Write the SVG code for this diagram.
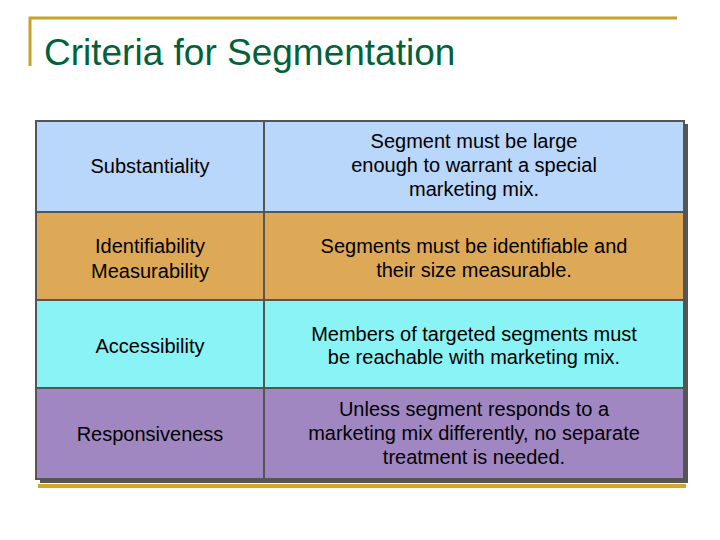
<svg xmlns="http://www.w3.org/2000/svg" width="720" height="540" viewBox="0 0 720 540">
<style>
.t{font-family:"Liberation Sans",Arial,sans-serif;font-size:20px;text-anchor:middle;fill:#000;}
.c{stroke:#555;stroke-width:2;}
</style>
<rect width="720" height="540" fill="#fff"/>
<g id="frame" fill="none" stroke="#c8a02a" stroke-width="3">
<path d="M30 66V18H677"/>
</g>
<text x="44" y="65" font-family="Liberation Sans,Arial,sans-serif" font-size="37" fill="#00623a">Criteria for Segmentation</text>
<rect x="38" y="484" width="648" height="4" fill="#d4a624"/>
<rect x="40" y="124" width="648" height="359" fill="#555"/>
<g id="row1"><rect class="c" x="36" y="121" width="228" height="91" fill="#b9d6fb"/><rect class="c" x="264" y="121" width="420" height="91" fill="#b9d6fb"/>
<text class="t" x="150" y="173">Substantiality</text>
<text class="t" x="474" y="148">Segment must be large</text><text class="t" x="474" y="172">enough to warrant a special</text><text class="t" x="474" y="196">marketing mix.</text></g>
<g id="row2"><rect class="c" x="36" y="212" width="228" height="88" fill="#dea957"/><rect class="c" x="264" y="212" width="420" height="88" fill="#dea957"/>
<text class="t" x="150" y="253">Identifiability</text><text class="t" x="150" y="278">Measurability</text>
<text class="t" x="474" y="253">Segments must be identifiable and</text><text class="t" x="474" y="277">their size measurable.</text></g>
<g id="row3"><rect class="c" x="36" y="300" width="228" height="88" fill="#8af3f5"/><rect class="c" x="264" y="300" width="420" height="88" fill="#8af3f5"/>
<text class="t" x="150" y="353">Accessibility</text>
<text class="t" x="474" y="341">Members of targeted segments must</text><text class="t" x="474" y="364">be reachable with marketing mix.</text></g>
<g id="row4"><rect class="c" x="36" y="388" width="228" height="91" fill="#a087c1"/><rect class="c" x="264" y="388" width="420" height="91" fill="#a087c1"/>
<text class="t" x="150" y="441">Responsiveness</text>
<text class="t" x="474" y="416">Unless segment responds to a</text><text class="t" x="474" y="440">marketing mix differently, no separate</text><text class="t" x="474" y="464">treatment is needed.</text></g>
<g id="connectors"/>
</svg>
